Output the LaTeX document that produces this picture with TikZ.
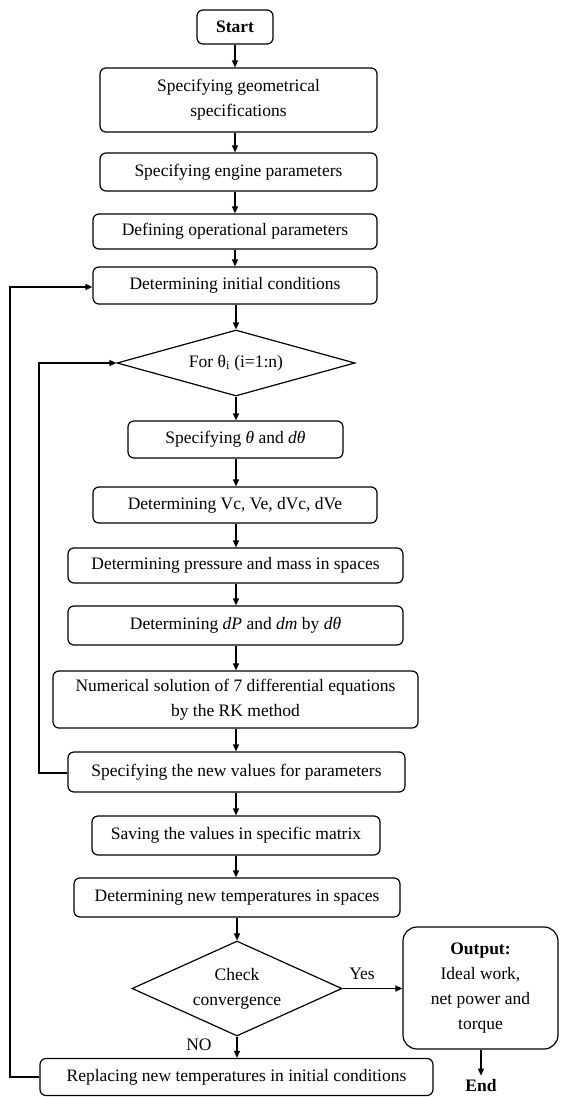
\documentclass[tikz,border=0pt]{standalone}
\usepackage{fontspec}
\setmainfont{Liberation Serif}
\usetikzlibrary{shapes.geometric,arrows.meta}
\newcommand\fs{\fontsize{17.5}{25}\selectfont}
\begin{document}
\begin{tikzpicture}[x=1pt,y=-1pt,
  every node/.style={font=\fs},
  box/.style={draw, line width=1.2pt, rounded corners=6pt, align=center, inner sep=0pt},
  dia/.style={draw, diamond, line width=1.2pt, align=center, inner sep=0pt},
  arr/.style={line width=1.2pt, -{Triangle[length=7pt,width=6pt]}},
  lbl/.style={inner sep=0pt}]
\useasboundingbox (0,0) rectangle (560,1097);

\node[box, font=\fs\bfseries, minimum width=76pt, minimum height=34pt] (start) at (235,27) {Start};
\node[box, minimum width=277pt, minimum height=64pt] (geo) at (238.5,100) {Specifying geometrical\\specifications};
\node[box, minimum width=277pt, minimum height=38pt] (eng) at (238.5,172) {Specifying engine parameters};
\node[box, minimum width=284pt, minimum height=35pt] (op) at (235,231.5) {Defining operational parameters};
\node[box, minimum width=284pt, minimum height=37pt] (init) at (235,285.5) {Determining initial conditions};
\node[dia, aspect=3.6, minimum width=238pt, minimum height=66pt] (for) at (236,363) {For θ\textsubscript{i} (i=1:n)};
\node[box, minimum width=215pt, minimum height=37pt] (theta) at (235.5,439.5) {Specifying \textit{θ} and \textit{dθ}};
\node[box, minimum width=284pt, minimum height=36pt] (vc) at (235,505) {Determining Vc, Ve, dVc, dVe};
\node[box, minimum width=335pt, minimum height=35pt] (press) at (235.5,565.5) {Determining pressure and mass in spaces};
\node[box, minimum width=335pt, minimum height=39pt] (dp) at (235.5,625.5) {Determining \textit{dP} and \textit{dm} by \textit{dθ}};
\node[box, minimum width=365pt, minimum height=57pt] (num) at (235.5,699.5) {Numerical solution of 7 differential equations\\by the RK method};
\node[box, minimum width=337pt, minimum height=40pt] (newv) at (236.5,772) {Specifying the new values for parameters};
\node[box, minimum width=288pt, minimum height=39pt] (save) at (236,835.5) {Saving the values in specific matrix};
\node[box, minimum width=326pt, minimum height=39pt] (temps) at (237,897.5) {Determining new temperatures in spaces};
\node[dia, aspect=2.2, minimum width=210pt, minimum height=95pt] (check) at (237,988.5) {Check\\convergence};
\node[box, rounded corners=14pt, minimum width=155pt, minimum height=122pt] (out) at (480.5,988) {\textbf{Output:}\\Ideal work,\\net power and\\torque};
\node[box, minimum width=393pt, minimum height=37pt] (repl) at (236.5,1077) {Replacing new temperatures in initial conditions};
\node[lbl, font=\fs\bfseries] (end) at (481,1086) {End};

\coordinate (c1) at (39,773);
\coordinate (c2) at (39,363);
\coordinate (c3) at (10,1077);
\coordinate (c4) at (10,287);

\draw[arr] (start.south) -- (start.south |- geo.north);
\draw[arr] (start.south |- geo.south) -- (start.south |- eng.north);
\draw[arr] (start.south |- eng.south) -- (start.south |- op.north);
\draw[arr] (start.south |- op.south) -- (start.south |- init.north);
\draw[arr] (init.south -| for.north) -- (for.north);
\draw[arr] (for.south) -- (for.south |- theta.north);
\draw[arr] (for.south |- theta.south) -- (for.south |- vc.north);
\draw[arr] (for.south |- vc.south) -- (for.south |- press.north);
\draw[arr] (for.south |- press.south) -- (for.south |- dp.north);
\draw[arr] (for.south |- dp.south) -- (for.south |- num.north);
\draw[arr] (for.south |- num.south) -- (for.south |- newv.north);
\draw[arr] (for.south |- newv.south) -- (for.south |- save.north);
\draw[arr] (for.south |- save.south) -- (for.south |- temps.north);
\draw[arr] (temps.south -| check.north) -- (check.north);
\draw[arr] (check.south) -- (check.south |- repl.north);
\draw[arr] (check.east) -- (check.east -| out.west);
\draw[arr] (end.north |- out.south) -- ([yshift=4pt]end.north);

\draw[arr] (newv.west |- c1) -- (c1) -- (c2) -- (for.west);
\draw[arr] (repl.west |- c3) -- (c3) -- (c4) -- (init.west |- c4);

\node[lbl] (yes) at (362,974) {Yes};
\node[lbl] (no) at (199,1045) {NO};
\end{tikzpicture}
\end{document}
